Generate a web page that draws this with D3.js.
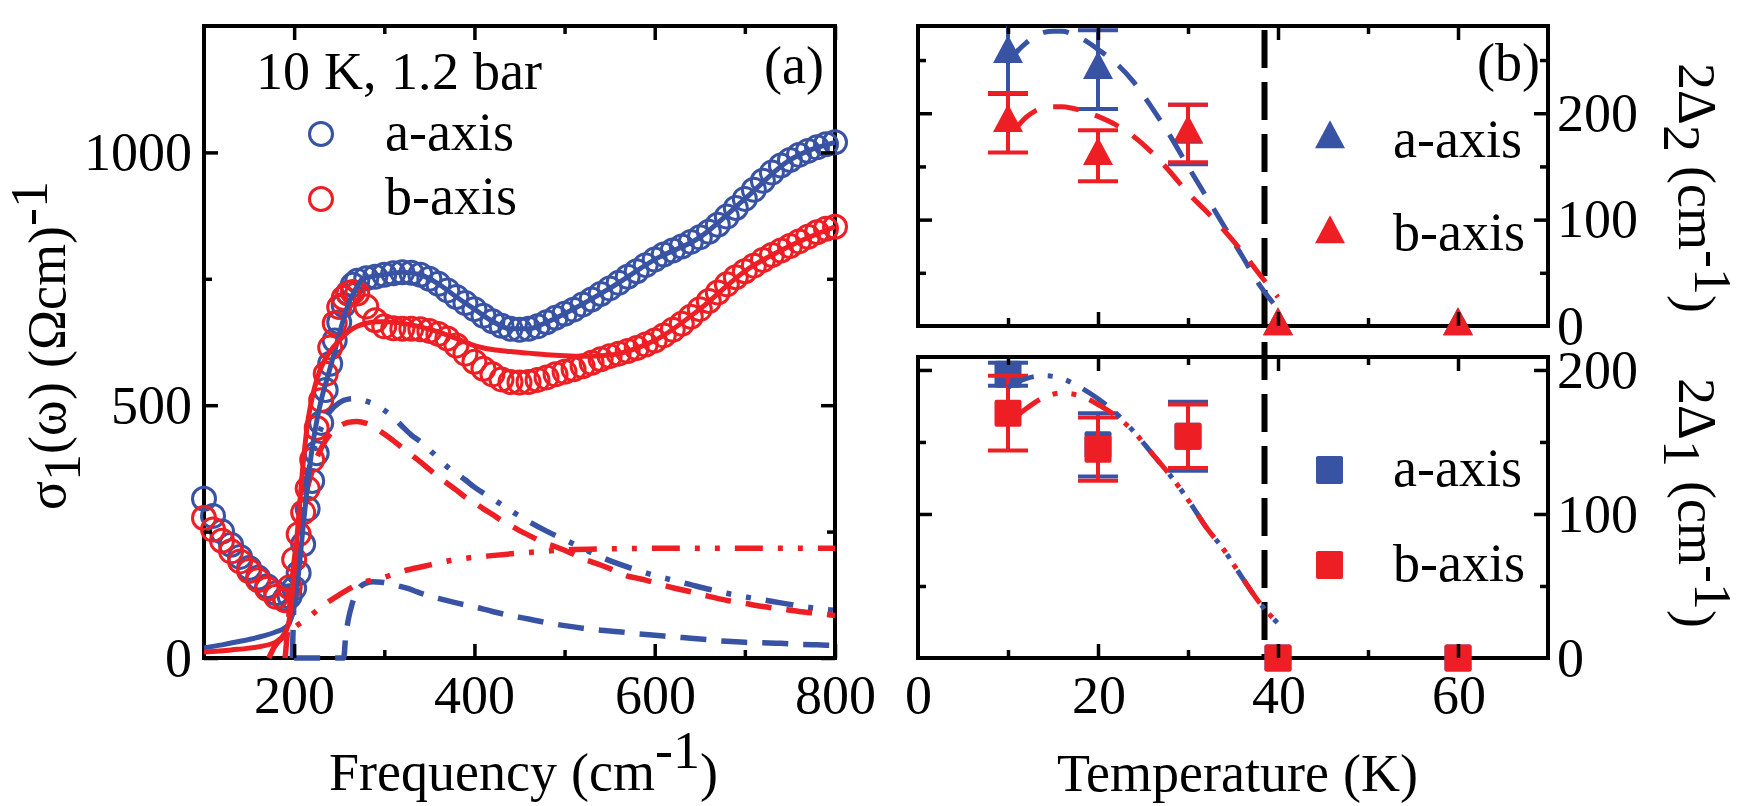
<!DOCTYPE html>
<html><head><meta charset="utf-8">
<script src="https://cdn.jsdelivr.net/npm/d3@7"></script>
<style>
@font-face{font-family:"LocalSerif";src:local("Liberation Serif"),local("LiberationSerif"),local("LiberationSerif-Regular"),local("Liberation Serif Regular"),local("Times New Roman"),local("TimesNewRomanPSMT"),local("DejaVu Serif"),local("DejaVuSerif");}
html,body{margin:0;padding:0;background:#fff;}
</style></head><body>
<svg id="chart" width="1742" height="806"></svg>
<script>
// ---------------- Panel (a) data: sigma_1(omega) at 10 K ----------------
const freq = [100,110,120,130,140,150,160,170,180,190,195,200,205,210,215,220,225,230,235,240,245,250,255,260,265,270,280,290,300,310,320,330,340,350,360,370,380,390,400,410,420,430,440,450,460,470,480,490,500,510,520,530,540,550,560,570,580,590,600,610,620,630,640,650,660,670,680,690,700,710,720,730,740,750,760,770,780,790,800];
const sigmaA = [315,281,250,224,200,178,159,142,128,118,122,138,168,225,295,350,405,465,530,582,628,664,698,722,738,746,751,754,758,761,763,762,758,750,740,727,714,702,690,677,666,657,651,649,651,656,664,673,681,689,699,709,720,731,742,754,765,777,788,798,806,814,823,832,843,857,873,890,908,926,944,960,974,985,995,1003,1010,1016,1020];
const sigmaB = [277,254,232,211,191,172,154,137,121,114,140,195,245,288,335,392,455,510,562,614,662,694,712,721,724,721,695,668,656,652,651,651,650,647,641,632,618,602,586,572,561,551,546,545,546,550,555,561,566,571,577,584,591,597,602,607,613,620,628,638,649,661,675,690,706,723,739,753,765,776,787,797,806,815,824,833,842,849,853];

// total fits (solid)
const fitTotA_nu = [100,120,140,160,180,190,195,200,205,210,215,220,225,230,237,244,250,256,263,270,276,285,300,320,340,360,380,400,420,440,460,480,500,550,600,650,700,750,800];
const fitTotA    = [20,26,33,41,52,60,70,100,170,260,345,415,468,510,555,600,640,678,712,735,750,754,758,763,758,740,714,690,666,651,651,664,681,731,788,832,908,985,1020];
const fitTotB_nu = [100,130,160,180,190,195,200,205,210,215,220,225,230,240,250,260,270,280,290,300,320,340,360,380,400,420,440,460,480,500,520,540,560,580,600,650,700,750,800];
const fitTotB    = [12,16,22,32,50,80,170,280,385,465,515,550,575,607,628,645,656,662,665,665,662,655,645,632,618,610,606,603,600,598,597,598,602,613,628,690,765,815,853];

// gap components a-axis
const compA1_nu = [200,255,257,260,264,268,272,278,287,297,310,325,341,360,380,400,420,440,460,480,500,520,540,560,580,600,620,640,660,680,700,720,740,760,780,800];
const compA1    = [0,0,40,75,105,125,138,147,151,150,145,138,128,118,109,101,92,84,77,70,64,59,55,52,48,45,42,39,36,33,31,30,29,27,26,25];
const compA2_nu = [198,200,205,210,220,230,240,250,260,270,280,290,300,310,320,330,340,350,360,370,380,390,400,420,440,460,480,500,520,540,560,580,600,620,640,660,680,700,720,740,760,780,800];
const compA2    = [0,120,230,310,400,455,488,505,512,513,508,501,490,476,458,441,428,412,395,378,365,352,338,315,292,270,251,234,217,200,186,174,163,154,145,136,128,121,115,109,103,98,94];
// gap components b-axis
const compB2_nu = [190,195,200,210,220,230,240,250,260,270,280,290,300,310,320,330,340,350,360,370,380,390,400,410,420,430,440,450,460,470,480,490,500,510,520,530,540,550,560,570,580,590,600,620,640,660,680,700,720,740,760,780,800];
const compB2    = [0,100,190,300,370,415,443,458,466,468,464,455,443,430,416,402,388,373,358,345,332,318,307,295,284,272,262,252,243,234,226,220,213,205,196,190,184,177,169,162,158,154,149,139,131,122,114,108,102,97,92,88,84];
const compB1_nu = [172,178,190,200,215,230,250,274,297,319,343,377,416,440,470,500,550,600,700,800];
const compB1    = [0,22,45,60,79,101,125,148,158,171,181,194,202,206,210,214,216,217,217,217];

const freqTicks = [200,400,600,800];
const freqMinor = [300,500,700];
const sigTicks = [0,500,1000];
const sigMinor = [250,750];

// ---------------- Panel (b) data: gaps vs temperature ----------------
const temps = [10,20,30,40,60];
const gap2A = [256,241,180,0,0];
const gap2AErr = [38,37,28,0,0];
const gap2B = [191,160,181,0,0];
const gap2BErr = [28,24,27,0,0];
const gap1A = [197,148,154,0,0];
const gap1AErr = [8,22,24,0,0];
const gap1B = [170,145,154,0,0];
const gap1BErr = [26,22,22,0,0];

const fit2A_T = [10.3,11,12,13,14,15,16,17,18,19,20,22,24,26,28,30,32,34,36,38,40];
const fit2A   = [250,258,266,272,276,277,277,275,271,266,260,247,229,205,179,150,122,94,66,38,16];
const fit2B_T = [11,12,13,14,15,16,17,18,20,22,24,26,28,30,32,34,36,38,40];
const fit2B   = [187,196,202,205,206,206,205,203,197,189,178,163,145,125,108,90,70,48,27];
const fit1A_T = [10,12,14,16,18,20,22,24,26,28,30,32,34,36,38,40];
const fit1A   = [188,194,196,194,188,180,170,157,142,127,110,91,75,56,38,24];
const fit1B_T = [11,12,14,16,18,20,22,24,26,28,30,32,34,36,38,40];
const fit1B   = [168,173,181,184,182,176,168,157,142,127,110,91,75,56,38,24];
const Tc = 38.5;

const tempTicks = [0,20,40,60];
const tempMaj = [20,40,60];
const tempMin = [10,30,50];
const gap2Ticks = [0,100,200];
const gap2Minor = [50,150,250];
const gap1Ticks = [0,100,200];
const gap1Minor = [50,150];

// ---------------- make sure the serif face is resolved before drawing ----------------
(function warmFonts(){
  const c = document.createElement("canvas").getContext("2d");
  const s = "abcdefghijklmnopqrstuvwxyzABCDEFGHIJKLMNOPQRSTUVWXYZ0123456789()σωΩΔ";
  ["\"LocalSerif\"","\"Liberation Serif\"","serif"].forEach(f=>{
    ["monospace","sans-serif"].forEach(b=>{ c.font = `54px ${f}, ${b}`; c.measureText(s); });
  });
})();

// ---------------- drawing ----------------
const FONT = '"LocalSerif", "Liberation Serif", serif';
const FS = 54;
const BLUE = "#3953a4", RED = "#ed1f24";
const svg = d3.select("#chart");
const zip = (a,b) => a.map((v,i)=>[v,b[i]]);
const fmt = d3.format("d");

function frame(x0,x1,y0,y1){
  svg.append("rect").attr("x",x0).attr("y",y0).attr("width",x1-x0).attr("height",y1-y0)
    .attr("fill","none").attr("stroke","#000").attr("stroke-width",4);
}
function styleAxis(g, showText){
  g.attr("font-family",null).attr("font-size",null);
  g.select(".domain").remove();
  g.selectAll(".tick line").attr("stroke","#000").attr("stroke-width",3.5);
  g.selectAll(".tick text").attr("fill","#000");
  if(!showText) g.selectAll(".tick text").remove();
}
function axes(x, y, xMaj, xMin, yMaj, yMin, xLabels, leftLabels){
  const [x0,x1] = x.range(); const [y0,y1] = y.range();
  const mk = (axf, pos, maj, min, lab, pad) => {
    svg.append("g").attr("transform",pos)
      .call(axf().tickValues(min).tickSize(-8).tickFormat(""))
      .call(g=>styleAxis(g,false));
    svg.append("g").attr("transform",pos)
      .call(axf().tickValues(maj).tickSize(-14).tickPadding(pad).tickFormat(fmt))
      .call(g=>styleAxis(g,lab));
  };
  mk(()=>d3.axisBottom(x), `translate(0,${y0})`, xMaj, xMin, xLabels, 17);
  mk(()=>d3.axisTop(x), `translate(0,${y1})`, xMaj, xMin, false, 3);
  mk(()=>d3.axisLeft(y), `translate(${x0},0)`, yMaj, yMin, leftLabels, 12);
  mk(()=>d3.axisRight(y), `translate(${x1},0)`, yMaj, yMin, false, 9);
}

// ===== Panel (a) =====
const xA = d3.scaleLinear().domain([100,800]).range([204,835]);
const yA = d3.scaleLinear().domain([0,1250]).range([658,26]);
frame(204,835,26,658);

const R = 11.5, SW = 3;
const gCirc = svg.append("g");
gCirc.selectAll("circle.a").data(zip(freq,sigmaA)).join("circle").attr("class","a")
  .attr("cx",d=>xA(d[0])).attr("cy",d=>yA(d[1])).attr("r",R)
  .attr("fill","none").attr("stroke",BLUE).attr("stroke-width",SW);
gCirc.selectAll("circle.b").data(zip(freq,sigmaB)).join("circle").attr("class","b")
  .attr("cx",d=>xA(d[0])).attr("cy",d=>yA(d[1])).attr("r",R)
  .attr("fill","none").attr("stroke",RED).attr("stroke-width",SW);

const lineA = d3.line().x(d=>xA(d[0])).y(d=>yA(d[1])).curve(d3.curveMonotoneX);
function pathA(nu, v, color, dash, w){
  svg.append("path").attr("d",lineA(zip(nu,v))).attr("fill","none").attr("stroke",color)
    .attr("stroke-width",w).attr("stroke-dasharray",dash||null);
}
const DDD = "28,15,5,15,5,15";
pathA(compA1_nu, compA1, BLUE, "26,15", 5.5);
pathA(compA2_nu, compA2, BLUE, DDD, 5.5);
pathA(compB2_nu, compB2, RED, "26,15", 5.5);
pathA(compB1_nu, compB1, RED, DDD, 5.5);
pathA(fitTotA_nu, fitTotA, BLUE, null, 5);
pathA(fitTotB_nu, fitTotB, RED, null, 5);

axes(xA, yA, freqTicks, freqMinor, sigTicks, sigMinor, true, true);

// texts panel (a)
svg.append("text").attr("x",256).attr("y",89).text("10 K, 1.2 bar");
svg.append("text").attr("x",764).attr("y",83).text("(a)");
svg.append("circle").attr("cx",321).attr("cy",134).attr("r",R).attr("fill","none").attr("stroke",BLUE).attr("stroke-width",SW);
svg.append("circle").attr("cx",321).attr("cy",199).attr("r",R).attr("fill","none").attr("stroke",RED).attr("stroke-width",SW);
svg.append("text").attr("x",385).attr("y",150).text("a-axis");
svg.append("text").attr("x",385).attr("y",214).text("b-axis");

const xt = svg.append("text").attr("x",523).attr("y",790).attr("text-anchor","middle");
xt.append("tspan").text("Frequency (cm");
xt.append("tspan").attr("dy",-22).text("-1");
xt.append("tspan").attr("dy",22).text(")");

const yt = svg.append("text").attr("transform","translate(65,345) rotate(-90)").attr("text-anchor","middle");
yt.append("tspan").text("σ");
yt.append("tspan").attr("dy",15).text("1");
yt.append("tspan").attr("dy",-15).text("(ω) (Ωcm)");
yt.append("tspan").attr("dy",-18).text("-1");

// ===== Panel (b) =====
const xB = d3.scaleLinear().domain([0,70]).range([918,1548]);
const yU = d3.scaleLinear().domain([0,282]).range([326,26]);
const yL = d3.scaleLinear().domain([0,209]).range([658,357]);
frame(918,1548,26,326);
frame(918,1548,357,658);

const defs = svg.append("defs");
defs.append("clipPath").attr("id","clipU").append("rect").attr("x",918).attr("y",26).attr("width",630).attr("height",300);
defs.append("clipPath").attr("id","clipL").append("rect").attr("x",918).attr("y",357).attr("width",630).attr("height",301);

// Tc line
svg.append("line").attr("x1",xB(Tc)).attr("x2",xB(Tc)).attr("y1",yU.range()[1]+4).attr("y2",yL.range()[0])
  .attr("stroke","#000").attr("stroke-width",6).attr("stroke-dasharray","38,14");

const TRI = "M0,-18.7L15,9.3L-15,9.3Z";
function points(y, vals, errs, color, shape, clip){
  const data = temps.map((t,i)=>({t, v:vals[i], e:errs[i]}));
  const ge = svg.append("g").attr("clip-path",`url(#${clip})`);
  data.filter(d=>d.e>0).forEach(d=>{
    const cx = xB(d.t);
    ge.append("line").attr("x1",cx).attr("x2",cx).attr("y1",y(d.v-d.e)).attr("y2",y(d.v+d.e)).attr("stroke",color).attr("stroke-width",4);
    [d.v-d.e, d.v+d.e].forEach(v=>ge.append("line").attr("x1",cx-20).attr("x2",cx+20).attr("y1",y(v)).attr("y2",y(v)).attr("stroke",color).attr("stroke-width",4));
  });
  const g = svg.append("g");
  if(shape==="tri"){
    g.selectAll("path").data(data).join("path").attr("d",TRI)
      .attr("transform",d=>`translate(${xB(d.t)},${y(d.v)})`).attr("fill",color);
  } else {
    g.selectAll("rect").data(data).join("rect")
      .attr("x",d=>xB(d.t)-13.5).attr("y",d=>y(d.v)-13.5).attr("width",27).attr("height",27).attr("rx",2).attr("fill",color);
  }
}
points(yU, gap2A, gap2AErr, BLUE, "tri", "clipU");
points(yU, gap2B, gap2BErr, RED, "tri", "clipU");
points(yL, gap1A, gap1AErr, BLUE, "sq", "clipL");
points(yL, gap1B, gap1BErr, RED, "sq", "clipL");

function pathB(y, T, v, color, dash){
  const line = d3.line().x(d=>xB(d[0])).y(d=>y(d[1])).curve(d3.curveMonotoneX);
  svg.append("path").attr("d",line(zip(T,v))).attr("fill","none").attr("stroke",color)
    .attr("stroke-width",5).attr("stroke-dasharray",dash);
}
pathB(yU, fit2A_T, fit2A, BLUE, "26,17");
pathB(yU, fit2B_T, fit2B, RED, "26,17");
pathB(yL, fit1A_T, fit1A, BLUE, "28,14,5,14,5,14");
pathB(yL, fit1B_T, fit1B, RED, "28,14,5,14,5,14");

// axes (b)
axes(xB, yU, tempMaj, tempMin, [100,200], gap2Minor, false, false);
axes(xB, yL, tempMaj, tempMin, [100,200], gap1Minor, false, false);
svg.append("g").attr("transform","translate(0,658)")
  .call(d3.axisBottom(xB).tickValues(tempTicks).tickSize(0).tickPadding(17).tickFormat(fmt)).call(g=>styleAxis(g,true));
svg.append("g").attr("transform","translate(1548,0)")
  .call(d3.axisRight(yU).tickValues(gap2Ticks).tickSize(0).tickPadding(9).tickFormat(fmt)).call(g=>styleAxis(g,true));
svg.append("g").attr("transform","translate(1548,0)")
  .call(d3.axisRight(yL).tickValues(gap1Ticks).tickSize(0).tickPadding(9).tickFormat(fmt)).call(g=>styleAxis(g,true));

// legends (b)
svg.append("path").attr("d",TRI).attr("transform","translate(1330,139)").attr("fill",BLUE);
svg.append("path").attr("d",TRI).attr("transform","translate(1330,234)").attr("fill",RED);
svg.append("rect").attr("x",1316).attr("y",456).attr("width",27).attr("height",28).attr("rx",2).attr("fill",BLUE);
svg.append("rect").attr("x",1316).attr("y",551).attr("width",27).attr("height",28).attr("rx",2).attr("fill",RED);
svg.append("text").attr("x",1393).attr("y",157).text("a-axis");
svg.append("text").attr("x",1393).attr("y",250).text("b-axis");
svg.append("text").attr("x",1393).attr("y",486).text("a-axis");
svg.append("text").attr("x",1393).attr("y",581).text("b-axis");
svg.append("text").attr("x",1477).attr("y",80).text("(b)");

svg.append("text").attr("x",1237).attr("y",791).attr("text-anchor","middle").text("Temperature (K)");

function rightTitle(cy, sub){
  const t = svg.append("text").attr("transform",`translate(1679,${cy}) rotate(90)`).attr("text-anchor","middle");
  t.append("tspan").text("2Δ");
  t.append("tspan").attr("dy",15).text(sub);
  t.append("tspan").attr("dy",-15).text(" (cm");
  t.append("tspan").attr("dy",-16).text("-1");
  t.append("tspan").attr("dy",16).text(")");
}
rightTitle(188, "2");
rightTitle(503, "1");

// global text style
function applyFont(){
  svg.selectAll("text").attr("font-family",FONT).attr("font-size",FS).attr("fill","#000")
    .style("font-family",FONT).style("font-size",FS+"px");
}
applyFont();
if(document.fonts && document.fonts.load){
  document.fonts.load(`54px "LocalSerif"`).then(applyFont).catch(()=>{});
  document.fonts.ready.then(applyFont);
}
</script>
</body></html>
